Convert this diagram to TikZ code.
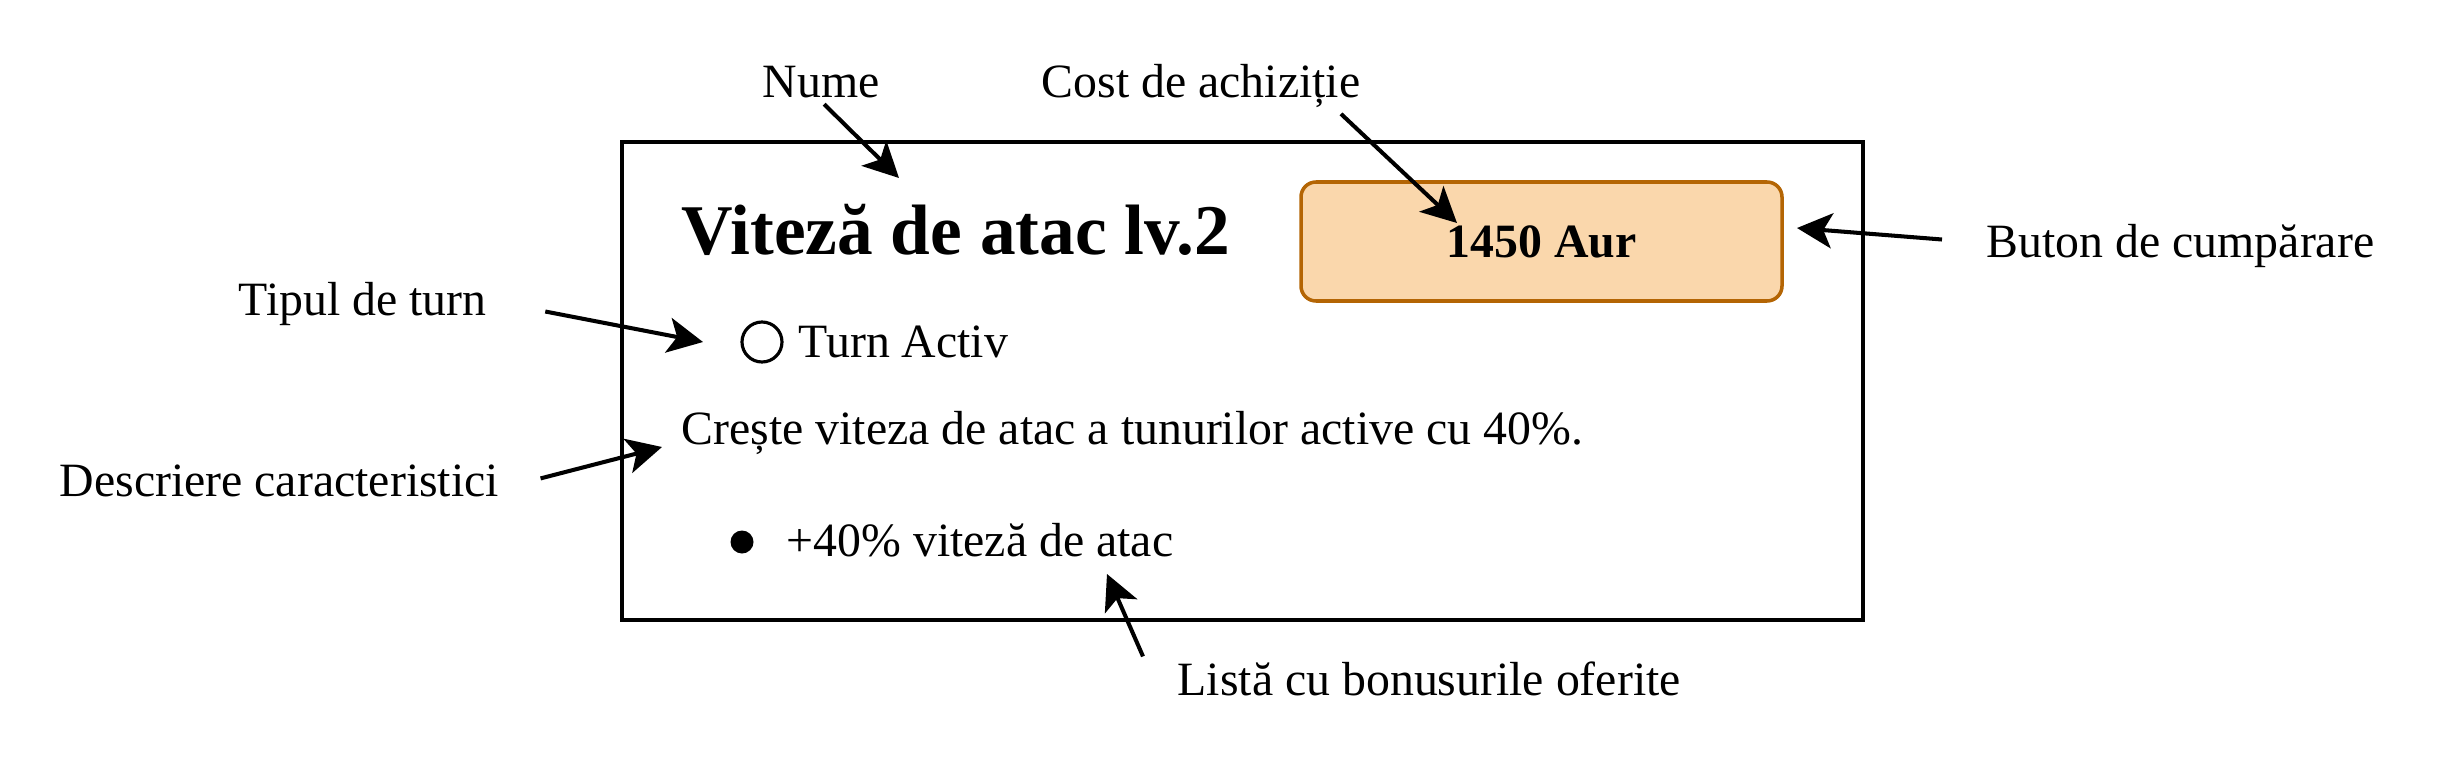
\documentclass[tikz,border=0pt]{standalone}
\usepackage{fontspec}
\setmainfont{Liberation Serif}
\usetikzlibrary{shapes.geometric, arrows.meta, positioning, calc}
\definecolor{btnfill}{HTML}{FAD7AC}
\definecolor{btnline}{HTML}{B46504}

\begin{document}
\begin{tikzpicture}[
    every node/.style={font=\fontsize{13.6}{16}\selectfont},
    txt/.style={anchor=base west, inner sep=0pt},
    card/.style={rectangle, draw, line width=1.15pt, minimum width=12.41cm,
                 minimum height=4.78cm},
    btn/.style={rectangle, rounded corners=0.15cm, draw=btnline, fill=btnfill,
                line width=1pt, minimum width=4.81cm, minimum height=1.19cm,
                font=\fontsize{13.6}{16}\selectfont\bfseries},
    ptr/.style={-{Stealth[length=10pt, width=10pt, inset=2.5pt]}, line width=1.15pt}
]
    \useasboundingbox (0,0) rectangle (24.44,7.64);

    % the card
    \node[card] (card) at (12.425,3.83) {};
    \node[btn]  (buy)  at (15.415,5.225) {1450 Aur};
    \node[txt, font=\fontsize{20.3}{24}\selectfont\bfseries] (title) at (6.81,5.10) {Viteză de atac lv.2};
    \node[circle, draw, line width=0.9pt, minimum size=0.40cm, inner sep=0pt] (ring) at (7.62,4.22) {};
    \node[txt]  (kind) at (7.98,4.07) {Turn Activ};
    \node[txt]  (desc) at (6.81,3.20) {Crește viteza de atac a tunurilor active cu 40\%.};
    \node[circle, fill, minimum size=0.23cm, inner sep=0pt] (dot) at (7.42,2.22) {};
    \node[txt]  (bonus) at (7.86,2.08) {+40\% viteză de atac};

    % labels
    \node[txt] (nume)   at (7.62,6.67)  {Nume};
    \node[txt] (cost)   at (10.41,6.67) {Cost de achiziție};
    \node[txt] (buton)  at (19.86,5.07) {Buton de cumpărare};
    \node[txt] (tipul)  at (2.38,4.49)  {Tipul de turn};
    \node[txt] (descr)  at (0.59,2.68)  {Descriere caracteristici};
    \node[txt] (lista)  at (11.77,0.69) {Listă cu bonusurile oferite};

    \coordinate (numeTip)  at (8.99,5.86);
    \coordinate (costTip)  at (14.57,5.41);
    \coordinate (butonTip) at (17.97,5.36);
    \coordinate (tipulTip) at (7.03,4.22);
    \coordinate (descrTip) at (6.62,3.17);
    \coordinate (listaTip) at (11.07,1.90);

    \draw[ptr] ($(nume.south)+(0.03,-0.06)$) -- (numeTip);
    \draw[ptr] ($(cost.south east)+(-0.20,-0.06)$) -- (costTip);
    \draw[ptr] ($(buton.west)+(-0.44,0.06)$) -- (butonTip);
    \draw[ptr] ($(tipul.east)+(0.58,-0.08)$) -- (tipulTip);
    \draw[ptr] ($(descr.east)+(0.41,0.02)$) -- (descrTip);
    \draw[ptr] ($(lista.west)+(-0.34,0.22)$) -- (listaTip);
\end{tikzpicture}
\end{document}
